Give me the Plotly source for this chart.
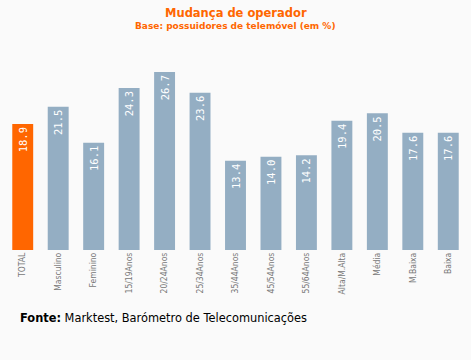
import plotly.graph_objects as go

categories = ["TOTAL", "Masculino", "Feminino", "15/19Anos", "20/24Anos", "25/34Anos",
              "35/44Anos", "45/54Anos", "55/64Anos", "Alta/M.Alta", "Média", "M.Baixa", "Baixa"]
values = [18.9, 21.5, 16.1, 24.3, 26.7, 23.6, 13.4, 14.0, 14.2, 19.4, 20.5, 17.6, 17.6]

colors = ["#FF6600"] + ["#94AEC3"] * (len(categories) - 1)

fig = go.Figure(go.Bar(
    x=categories, y=values,
    marker=dict(color=colors, line=dict(width=0)),
    width=0.59,
    texttemplate="%{y:.1f}",
    textposition="inside",
    insidetextanchor="end",
    textangle=-90,
    textfont=dict(color="white", size=10.5, family="DejaVu Sans Mono"),
    hoverinfo="skip",
))

W, H = 471, 360
ml, mr, mt, mb = 5, 5, 50, 110

fig.update_layout(
    width=W, height=H,
    margin=dict(l=ml, r=mr, t=mt, b=mb),
    paper_bgcolor="#FAFAFA", plot_bgcolor="#FAFAFA",
    showlegend=False,
    xaxis=dict(tickangle=-90, showgrid=False, zeroline=False, showline=False,
               tickfont=dict(size=8.5, color="#777777", family="DejaVu Sans Condensed, DejaVu Sans"),
               ticks="", fixedrange=True),
    yaxis=dict(range=[0, 30], visible=False, fixedrange=True),
    annotations=[
        dict(text="<b>Mudança de operador</b>", x=0.5, y=13, xref="paper", yref="paper",
             showarrow=False, font=dict(size=11.5, color="#FF6600", family="DejaVu Sans")),
        dict(text="<b>Base: possuidores de telemóvel (em %)</b>", x=0.5, y=26,
             xref="paper", yref="paper", showarrow=False,
             font=dict(size=9, color="#FF6600", family="DejaVu Sans")),
        dict(text="<b>Fonte:</b> Marktest, Barómetro de Telecomunicações", x=18, y=318,
             xref="paper", yref="paper", showarrow=False, xanchor="left",
             font=dict(size=11.4, color="#000000", family="DejaVu Sans")),
    ],
)

# convert pixel positions of annotations to paper coordinates
pw, ph = W - ml - mr, H - mt - mb
for a in fig.layout.annotations:
    px, py = a.x, a.y
    if px != 0.5:
        a.x = (px - ml) / pw
    a.y = (H - mb - py) / ph
    a.yanchor = "middle"

fig.write_html("out.html", config={"displayModeBar": False},
               post_script="document.body.style.margin='0';")
